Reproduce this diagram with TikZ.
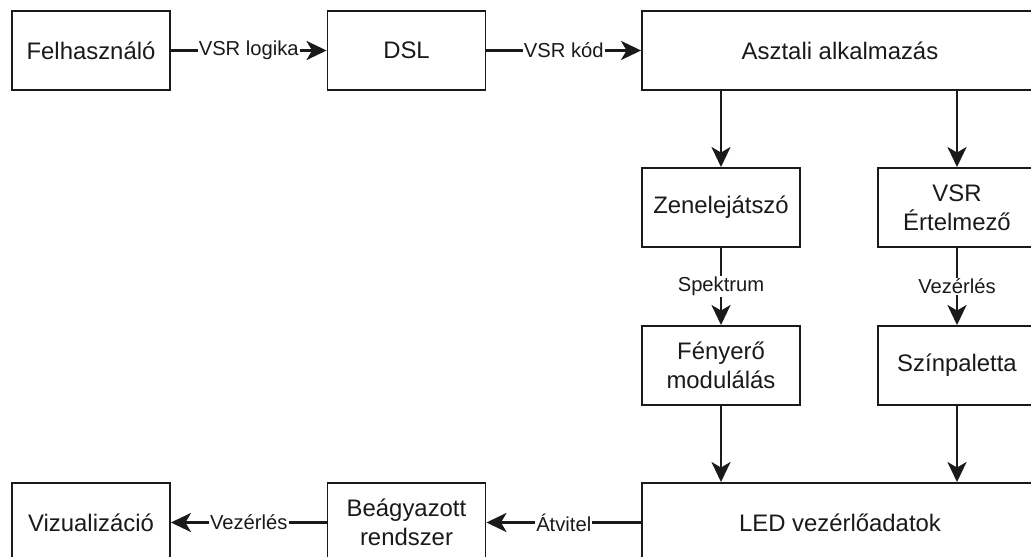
\documentclass[tikz,border=0pt]{standalone}
\usepackage{fontspec}
\setmainfont{Liberation Sans}
\usetikzlibrary{arrows.meta,positioning}
\definecolor{ink}{HTML}{1A1A1A}
\tikzset{
  blokk/.style={draw=ink,fill=white,line width=1.1pt,align=center,font=\fontsize{13.6}{16.5}\selectfont,text=ink,inner sep=2pt},
  arrow/.style={-{Stealth[length=4mm,width=3.8mm,inset=1.1mm]},line width=1.6pt,draw=ink},
  lbl/.style={fill=white,font=\fontsize{11.5}{13}\selectfont,text=ink,inner sep=0.6pt}
}
\begin{document}
\begin{tikzpicture}[x=0.02cm,y=-0.02cm,
      kis/.style={blokk,minimum width=3.16cm,minimum height=1.58cm},
      szeles/.style={blokk,minimum width=7.92cm,minimum height=1.58cm}
    ]
      \useasboundingbox (0,0) rectangle (1031,557);
      \clip (0,0) rectangle (1031,557);

      % felso sor
      \node[kis] (felh) at (91,50.5) {Felhasználó};
      \node[kis] (dsl) at (406.5,50.5) {DSL};
      \node[szeles] (asztali) at (840,50.5) {Asztali alkalmazás};

      % kozepso oszlopok
      \node[kis] (zene) at (721,207.5) {Zenelejátszó};
      \node[kis] (vsr) at (957,207.5) {VSR\\Értelmező};
      \node[kis] (feny) at (721,365.5) {Fényerő\\modulálás};
      \node[kis] (szin) at (957,365.5) {Színpaletta};

      % also sor
      \node[szeles] (led) at (840,522.5) {LED vezérlőadatok};
      \node[kis] (beag) at (406.5,522.5) {Beágyazott\\rendszer};
      \node[kis] (viz) at (91,522.5) {Vizualizáció};

      \draw[arrow] (felh) -- node[lbl] {VSR logika} (dsl);
      \draw[arrow] (dsl) -- node[lbl] {VSR kód} (asztali);

      \draw[arrow] (asztali.south -| zene) -- (zene.north);
      \draw[arrow] (asztali.south -| vsr) -- (vsr.north);
      \draw[arrow] (zene) -- node[lbl] {Spektrum} (feny);
      \draw[arrow] (vsr) -- node[lbl] {Vezérlés} (szin);
      \draw[arrow] (feny.south) -- (led.north -| feny);
      \draw[arrow] (szin.south) -- (led.north -| szin);

      \draw[arrow] (led) -- node[lbl] {Átvitel} (beag);
      \draw[arrow] (beag) -- node[lbl] {Vezérlés} (viz);

    \end{tikzpicture}
\end{document}
